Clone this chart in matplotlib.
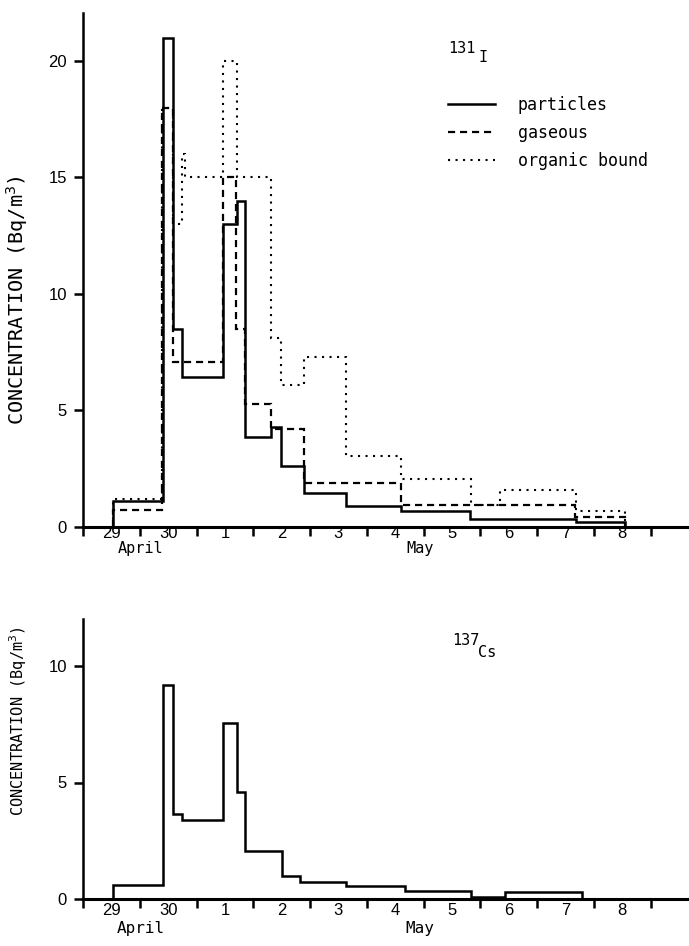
import matplotlib
matplotlib.use("Agg")
import matplotlib.pyplot as plt
from matplotlib.lines import Line2D
import matplotlib.transforms as mtransforms

# ---- data (x in days since 29 April 00:00) ----
particles_edges = [0.534, 1.415, 1.58, 1.74, 2.47, 2.71, 2.85, 3.32, 3.49, 3.89, 4.63, 5.61, 6.82, 8.69, 9.55]
particles_vals = [1.1, 21.0, 8.5, 6.45, 13.0, 14.0, 3.85, 4.3, 2.6, 1.45, 0.92, 0.7, 0.35, 0.2]

gaseous_edges = [0.534, 1.39, 1.58, 2.47, 2.69, 2.85, 3.32, 3.89, 5.61, 8.67, 9.55]
gaseous_vals = [0.73, 18.0, 7.1, 15.0, 8.5, 5.3, 4.2, 1.9, 0.95, 0.45]

organic_edges = [0.534, 1.39, 1.58, 1.74, 1.79, 2.47, 2.71, 3.32, 3.49, 3.89, 4.63, 5.61, 6.83, 7.35, 8.69, 9.55]
organic_vals = [1.2, 18.0, 13.0, 16.0, 15.0, 20.0, 15.0, 8.1, 6.1, 7.3, 3.05, 2.05, 0.95, 1.6, 0.7]

cs_edges = [0.534, 1.415, 1.59, 1.74, 2.47, 2.72, 2.855, 3.51, 3.82, 4.64, 5.67, 6.83, 7.44, 8.79]
cs_vals = [0.6, 9.2, 3.65, 3.4, 7.55, 4.6, 2.04, 0.97, 0.72, 0.55, 0.35, 0.1, 0.28]

day_labels = ["29", "30", "1", "2", "3", "4", "5", "6", "7", "8"]
top_yticks = [0, 5, 10, 15, 20]
bot_yticks = [0, 5, 10]
legend_labels = ["particles", "gaseous", "organic bound"]

plt.rcParams['font.family'] = ['Liberation Sans', 'DejaVu Sans']
MONO = ['DejaVu Sans Mono', 'DejaVu Sans']

W, H = 689, 946
fig = plt.figure(figsize=(W / 100, H / 100), dpi=100)
ax1 = fig.add_axes([83 / W, 1 - 527 / H, 605 / W, 514 / H])
ax2 = fig.add_axes([83 / W, 1 - 899 / H, 605 / W, 280 / H])

XMAX = 605 / 56.75

solid = dict(color='black', lw=1.8, linestyle='-')
dashed = dict(color='black', lw=1.6, linestyle=(0, (3.2, 2.2)))
dotted = dict(color='black', lw=1.5, linestyle=(0, (1, 2.6)))

ax1.stairs(organic_vals, organic_edges, baseline=0, **dotted)
ax1.stairs(gaseous_vals, gaseous_edges, baseline=0, **dashed)
ax1.stairs(particles_vals, particles_edges, baseline=0, **solid)
ax2.stairs(cs_vals, cs_edges, baseline=0, **solid)

for ax, ymax, yt, xpad in ((ax1, 514 / 23.3, top_yticks, -0.5), (ax2, 280 / 23.3, bot_yticks, 3)):
    ax.set_xlim(0, XMAX)
    ax.set_ylim(0, ymax)
    ax.spines['top'].set_visible(False)
    ax.spines['right'].set_visible(False)
    ax.spines['left'].set_linewidth(1.8)
    ax.spines['bottom'].set_linewidth(2.2)
    ax.set_xticks(range(0, len(day_labels) + 1))
    ax.set_xticklabels([])
    ax.set_xticks([i + 0.5 for i in range(len(day_labels))], minor=True)
    ax.set_xticklabels(day_labels, minor=True)
    ax.tick_params(axis='x', which='major', direction='out', length=6.5, width=1.8)
    ax.tick_params(axis='x', which='minor', length=0, pad=xpad, labelsize=12)
    ax.set_yticks(yt)
    ax.set_yticklabels([str(v) for v in yt])
    ax.tick_params(axis='y', direction='out', length=6.5, width=1.8, pad=5, labelsize=12)
    ax.patch.set_alpha(0)

ax1.set_ylabel('CONCENTRATION (Bq/m$^{3}$)', family=MONO, fontsize=14.5)
ax1.yaxis.set_label_coords(-0.088, 0.4416)
ax2.set_ylabel('CONCENTRATION (Bq/m$^{3}$)', family=MONO, fontsize=11)
ax2.yaxis.set_label_coords(-0.089, 0.636)

# month labels
for ax, yfrac, fs in ((ax1, -0.0428, 11), (ax2, -0.104, 11.5)):
    tr = mtransforms.blended_transform_factory(ax.transData, ax.transAxes)
    ax.text(1.02, yfrac, 'April', transform=tr, ha='center', va='center', family=MONO, fontsize=fs)
    ax.text(5.94, yfrac, 'May', transform=tr, ha='center', va='center', family=MONO, fontsize=fs)

# isotope labels
ax1.text(0.603, 0.922, '131', transform=ax1.transAxes, family=MONO, fontsize=11, va='baseline')
ax1.text(0.6529, 0.9047, 'I', transform=ax1.transAxes, family=MONO, fontsize=11, va='baseline')
ax2.text(0.610, 0.907, '137', transform=ax2.transAxes, family=MONO, fontsize=11, va='baseline')
ax2.text(0.653, 0.864, 'Cs', transform=ax2.transAxes, family=MONO, fontsize=11, va='baseline')

handles = [Line2D([], [], **solid), Line2D([], [], **dashed), Line2D([], [], **dotted)]
leg = ax1.legend(handles, legend_labels, loc='upper left', bbox_to_anchor=(0.603, 0.8385),
                 frameon=False, borderaxespad=0, borderpad=0, handlelength=2.82,
                 handletextpad=1.38, labelspacing=0.6, prop={'family': MONO, 'size': 12})

fig.savefig('out.png', dpi=100, facecolor='white')
